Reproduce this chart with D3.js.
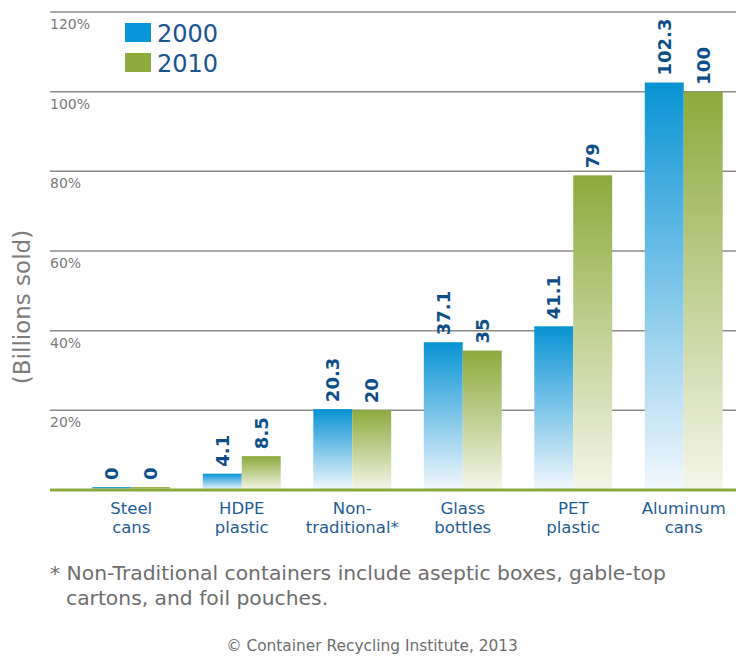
<!DOCTYPE html>
<html>
<head>
<meta charset="utf-8">
<script src="https://cdn.jsdelivr.net/npm/d3@7"></script>
<style>
  body { margin: 0; background: #fff; }
  svg { display: block; }
</style>
</head>
<body>
<svg id="chart" width="736" height="669"></svg>
<script>
// Beverage containers sold, by material (billions)
const categories = ["Steel cans", "HDPE plastic", "Non-traditional*", "Glass bottles", "PET plastic", "Aluminum cans"];
const categoryLines = [["Steel", "cans"], ["HDPE", "plastic"], ["Non-", "traditional*"], ["Glass", "bottles"], ["PET", "plastic"], ["Aluminum", "cans"]];
const seriesNames = ["2000", "2010"];
const values2000 = [0, 4.1, 20.3, 37.1, 41.1, 102.3];
const values2010 = [0, 8.5, 20, 35, 79, 100];
const yTicks = [20, 40, 60, 80, 100, 120];
const tickLabels = ["20%", "40%", "60%", "80%", "100%", "120%"];
const footnoteLines = ["* Non-Traditional containers include aseptic boxes, gable-top", "cartons, and foil pouches."];
const credit = "\u00A9 Container Recycling Institute, 2013";

const FONT = "'DejaVu Sans', sans-serif";
const svg = d3.select("#chart");

const y = d3.scaleLinear().domain([0, 120]).range([490, 12]);
const x0 = d3.scaleBand().domain(categories).range([76, 739]).paddingInner(0.295).paddingOuter(0.1475);
const x1 = d3.scaleBand().domain(seriesNames).range([0, x0.bandwidth()]);

// vertical fades for the bars
const defs = svg.append("defs");
const grads = { "2000": ["#0893d4", "#f3f8fd"], "2010": ["#8caa3c", "#f5f6ea"] };
Object.entries(grads).forEach(([k, [top, bottom]]) => {
  const g = defs.append("linearGradient").attr("id", "g" + k).attr("x1", 0).attr("y1", 0).attr("x2", 0).attr("y2", 1);
  g.append("stop").attr("offset", "0%").attr("stop-color", top);
  g.append("stop").attr("offset", "100%").attr("stop-color", bottom);
});

// gridlines and tick labels
const grid = svg.append("g");
grid.selectAll("line").data(yTicks).join("line")
  .attr("x1", 50).attr("x2", 736)
  .attr("y1", d => y(d)).attr("y2", d => y(d))
  .attr("stroke", "#8c8c8c").attr("stroke-width", 1.5);
grid.selectAll("text").data(yTicks).join("text")
  .attr("x", 50).attr("y", d => y(d) + 17)
  .attr("font-family", FONT).attr("font-size", 14).attr("fill", "#7a7a7a")
  .text((d, i) => tickLabels[i]);

// axis title
svg.append("text")
  .attr("transform", "translate(30,307) rotate(-90)")
  .attr("text-anchor", "middle")
  .attr("font-family", FONT).attr("font-size", 23).attr("fill", "#7d7d7d")
  .text("(Billions sold)");

// bars
const rows = categories.map((c, i) => ({ cat: c, vals: [{ s: "2000", v: values2000[i] }, { s: "2010", v: values2010[i] }] }));
const MIN_H = 3;
const groups = svg.append("g").selectAll("g").data(rows).join("g")
  .attr("transform", d => `translate(${x0(d.cat)},0)`);
groups.selectAll("rect").data(d => d.vals).join("rect")
  .attr("x", d => x1(d.s)).attr("width", x1.bandwidth())
  .attr("y", d => Math.min(y(d.v), y(0) - MIN_H))
  .attr("height", d => Math.max(y(0) - y(d.v), MIN_H))
  .attr("fill", d => `url(#g${d.s})`);

// value labels
groups.selectAll("text").data(d => d.vals).join("text")
  .attr("transform", d => `translate(${x1(d.s) + x1.bandwidth() / 2},${Math.min(y(d.v), y(0) - MIN_H) - 7}) rotate(-90)`)
  .attr("dominant-baseline", "central")
  .attr("font-family", FONT).attr("font-weight", "bold").attr("font-size", 18).attr("fill", "#0e4f8a")
  .text(d => d.v);

// baseline
svg.append("line").attr("x1", 50).attr("x2", 736).attr("y1", y(0)).attr("y2", y(0))
  .attr("stroke", "#8aab3c").attr("stroke-width", 3);

// category labels, one text per line
const catLabels = svg.append("g");
categories.forEach((c, i) => {
  categoryLines[i].forEach((t, j) => {
    catLabels.append("text")
      .attr("x", x0(c) + x0.bandwidth() / 2)
      .attr("y", 514 + j * 19)
      .attr("text-anchor", "middle")
      .attr("font-family", FONT).attr("font-size", 16.5).attr("fill", "#1f5d97")
      .text(t);
  });
});

// legend
const legend = svg.append("g");
seriesNames.forEach((s, i) => {
  legend.append("rect").attr("x", 125).attr("y", 23 + i * 30).attr("width", 26).attr("height", 19)
    .attr("fill", i === 0 ? "#0797d8" : "#8daa3e");
  legend.append("text").attr("x", 157).attr("y", 42 + i * 30)
    .attr("font-family", FONT).attr("font-size", 24).attr("fill", "#1a5592").text(s);
});

// footnote and credit
svg.append("text").attr("x", 50).attr("y", 580)
  .attr("font-family", FONT).attr("font-size", 20.3).attr("fill", "#6e6e6e").text(footnoteLines[0]);
svg.append("text").attr("x", 66).attr("y", 605)
  .attr("font-family", FONT).attr("font-size", 20.3).attr("fill", "#6e6e6e").text(footnoteLines[1]);
svg.append("text").attr("x", 372).attr("y", 651).attr("text-anchor", "middle")
  .attr("font-family", FONT).attr("font-size", 15.4).attr("fill", "#6e6e6e").text(credit);
</script>
</body>
</html>
